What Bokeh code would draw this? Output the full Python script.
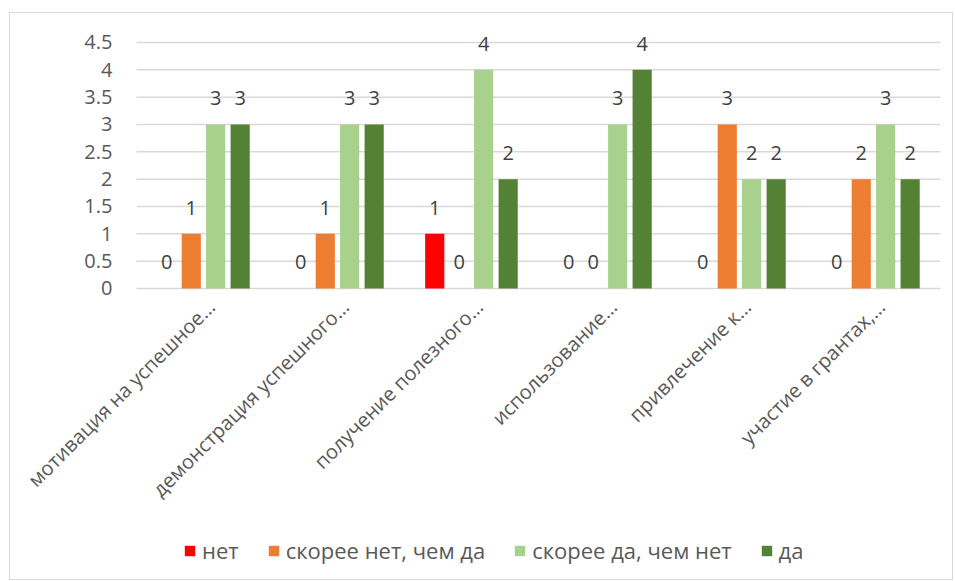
from bokeh.plotting import figure
from bokeh.models import ColumnDataSource, Legend, LegendItem, LabelSet
from bokeh.transform import dodge
from bokeh.core.properties import value
from bokeh.embed import file_html
from bokeh.resources import INLINE
import math

categories = ["мотивация на успешное…", "демонстрация успешного…", "получение полезного…",
              "использование…", "привлечение к…", "участие в грантах,…"]
series_names = ["нет", "скорее нет, чем да", "скорее да, чем нет", "да"]
net = [0, 0, 1, 0, 0, 0]
skoree_net = [1, 1, 0, 0, 3, 2]
skoree_da = [3, 3, 4, 3, 2, 3]
da = [3, 3, 2, 4, 2, 2]
colors = ["#FF0000", "#ED7D31", "#A9D18E", "#548235"]
y_ticks = [0, 0.5, 1, 1.5, 2, 2.5, 3, 3.5, 4, 4.5]
y_tick_labels = ["%g" % t for t in y_ticks]

FONT = "Open Sans"
n = len(categories)
cat_x = [i + 0.5 for i in range(n)]
source = ColumnDataSource(dict(cat=categories, x=cat_x, zero=[0] * n,
                               s0=net, s1=skoree_net, s2=skoree_da, s3=da,
                               t0=[str(v) for v in net], t1=[str(v) for v in skoree_net],
                               t2=[str(v) for v in skoree_da], t3=[str(v) for v in da]))
tick_src = ColumnDataSource(dict(y=y_ticks, lab=y_tick_labels, x0=[0] * len(y_ticks),
                                 x1=[n] * len(y_ticks)))

# the frame spans the whole chart box so rotated labels and the legend are not clipped
p = figure(x_range=(-0.940, 6.09), y_range=(-5.232, 5.0305), frame_width=942, frame_height=561,
           output_backend="svg", toolbar_location=None, min_border=0,
           min_border_left=0, min_border_right=0, min_border_top=0, min_border_bottom=5)
p.styles = {"border": "1px solid #d9d9d9"}
p.margin = (12, 0, 0, 9)
p.xaxis.visible = False
p.yaxis.visible = False
p.grid.visible = False
p.outline_line_color = None
p.border_fill_color = "white"

# horizontal gridlines across the category span
p.segment(x0="x0", x1="x1", y0="y", y1="y", source=tick_src, line_color="#d9d9d9", line_width=1.5)
# y tick labels
p.text(x="x0", y="y", text="lab", source=tick_src, x_offset=-24, text_align="right",
       text_baseline="middle", text_font=value(FONT), text_font_size="20px", text_color="#595959")

offsets = [-0.274, -0.091, 0.091, 0.274]
items = []
for i, (off, col, name) in enumerate(zip(offsets, colors, series_names)):
    r = p.vbar(x=dodge("x", off), top="s%d" % i, bottom=0, width=0.143,
               fill_color=col, line_color=None, source=source)
    p.text(x=dodge("x", off), y="s%d" % i, text="t%d" % i, source=source,
           text_align="center", text_baseline="alphabetic", y_offset=-26,
           text_font=value(FONT), text_font_size="20px", text_color="#404040")
    items.append(LegendItem(label=name, renderers=[r]))

cat_labels = LabelSet(x="x", y="zero", text="cat", source=source, angle=math.pi / 4,
                      text_align="right", text_baseline="alphabetic", x_offset=13, y_offset=-20,
                      text_font=value(FONT), text_font_size="20px", text_color="#595959")
p.add_layout(cat_labels)

legend = Legend(items=items, orientation="horizontal", location=(173, 9),
                label_text_font=FONT, label_text_font_size="22px", label_text_color="#595959",
                glyph_width=13, glyph_height=13, spacing=28, label_standoff=6,
                border_line_color=None, background_fill_alpha=0, padding=4, margin=0)
p.add_layout(legend, "center")

open("out.html", "w").write(file_html(p, INLINE))
